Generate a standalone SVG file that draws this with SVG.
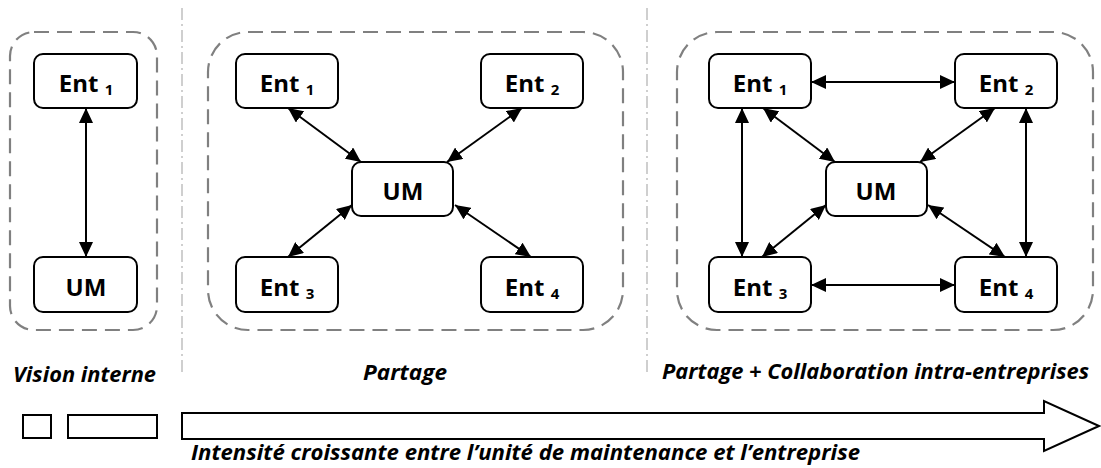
<svg xmlns="http://www.w3.org/2000/svg" width="1101" height="468" viewBox="0 0 1101 468">
<style>
.panel{fill:none;stroke:#808080;stroke-width:2.2;stroke-dasharray:15 8}
.div{fill:none;stroke:#c0c0c0;stroke-width:1.5;stroke-dasharray:12 4 2 4}
.box{fill:#fff;stroke:#000;stroke-width:2}
.t{font-family:"Open Sans","Liberation Sans",sans-serif;font-weight:bold;font-size:24px;fill:#000;text-anchor:middle}
.sub{font-size:15px}
.lab{font-family:"Open Sans","Liberation Sans",sans-serif;font-weight:bold;font-style:italic;font-size:21px;fill:#000}
.c{stroke:#000;stroke-width:2;fill:none;marker-start:url(#ah);marker-end:url(#ah)}
.sh{fill:#fff;stroke:#000;stroke-width:2}
</style>
<defs>
<marker id="ah" markerUnits="userSpaceOnUse" markerWidth="16" markerHeight="14" refX="15" refY="7" orient="auto-start-reverse">
<path d="M0,0 L15,7 L0,14 z" fill="#000"/>
</marker>
</defs>
<rect width="1101" height="468" fill="#fff"/>
<g id="dividers">
<line class="div" x1="182" y1="8" x2="182" y2="372"/>
<line class="div" x1="647" y1="8" x2="647" y2="372"/>
</g>
<g id="panels">
<rect id="panel1" class="panel" x="10" y="32" width="147" height="298" rx="24"/>
<rect id="panel2" class="panel" x="208" y="32" width="415" height="298" rx="40"/>
<rect id="panel3" class="panel" x="677" y="32" width="416" height="298" rx="40"/>
</g>
<g id="connectors">
<line class="c" x1="86" y1="108" x2="86" y2="257"/>
<line class="c" x1="288" y1="108" x2="361" y2="162"/>
<line class="c" x1="522" y1="108" x2="447" y2="162"/>
<line class="c" x1="352" y1="205" x2="288" y2="257"/>
<line class="c" x1="455" y1="205" x2="531" y2="257"/>
<line class="c" x1="811" y1="82" x2="955" y2="82"/>
<line class="c" x1="811" y1="285" x2="955" y2="285"/>
<line class="c" x1="742" y1="108" x2="742" y2="257"/>
<line class="c" x1="1026" y1="108" x2="1026" y2="257"/>
<line class="c" x1="763" y1="108" x2="835" y2="162"/>
<line class="c" x1="995" y1="108" x2="920" y2="162"/>
<line class="c" x1="826" y1="205" x2="762" y2="257"/>
<line class="c" x1="928" y1="205" x2="1005" y2="257"/>
</g>
<g id="p1-ent1"><rect class="box" x="34" y="54" width="103" height="54" rx="9"/><text class="t" x="86" y="92">Ent <tspan class="sub" dy="3">1</tspan></text></g>
<g id="p1-um"><rect class="box" x="34" y="257" width="103" height="55" rx="9"/><text class="t" x="86" y="296">UM</text></g>
<g id="p2-ent1"><rect class="box" x="236" y="54" width="102" height="54" rx="9"/><text class="t" x="287" y="92">Ent <tspan class="sub" dy="3">1</tspan></text></g>
<g id="p2-ent2"><rect class="box" x="481" y="54" width="102" height="54" rx="9"/><text class="t" x="532" y="92">Ent <tspan class="sub" dy="3">2</tspan></text></g>
<g id="p2-um"><rect class="box" x="352" y="162" width="101" height="54" rx="9"/><text class="t" x="403" y="200">UM</text></g>
<g id="p2-ent3"><rect class="box" x="236" y="257" width="102" height="55" rx="9"/><text class="t" x="287" y="296">Ent <tspan class="sub" dy="3">3</tspan></text></g>
<g id="p2-ent4"><rect class="box" x="481" y="257" width="102" height="55" rx="9"/><text class="t" x="532" y="296">Ent <tspan class="sub" dy="3">4</tspan></text></g>
<g id="p3-ent1"><rect class="box" x="709" y="54" width="102" height="54" rx="9"/><text class="t" x="760" y="92">Ent <tspan class="sub" dy="3">1</tspan></text></g>
<g id="p3-ent2"><rect class="box" x="955" y="54" width="102" height="54" rx="9"/><text class="t" x="1006" y="92">Ent <tspan class="sub" dy="3">2</tspan></text></g>
<g id="p3-um"><rect class="box" x="826" y="162" width="101" height="54" rx="9"/><text class="t" x="876" y="200">UM</text></g>
<g id="p3-ent3"><rect class="box" x="709" y="257" width="102" height="55" rx="9"/><text class="t" x="760" y="296">Ent <tspan class="sub" dy="3">3</tspan></text></g>
<g id="p3-ent4"><rect class="box" x="955" y="257" width="102" height="55" rx="9"/><text class="t" x="1006" y="296">Ent <tspan class="sub" dy="3">4</tspan></text></g>
<g id="labels">
<text class="lab" x="13" y="382" textLength="143" lengthAdjust="spacingAndGlyphs">Vision interne</text>
<text class="lab" x="363" y="380" textLength="84" lengthAdjust="spacingAndGlyphs">Partage</text>
<text class="lab" x="662" y="379" textLength="427" lengthAdjust="spacingAndGlyphs">Partage + Collaboration intra-entreprises</text>
<text class="lab" x="191" y="460" textLength="669" lengthAdjust="spacingAndGlyphs">Intensité croissante entre l’unité de maintenance et l’entreprise</text>
</g>
<g id="scale">
<rect class="sh" x="23" y="415" width="28" height="23"/>
<rect class="sh" x="68" y="415" width="89" height="23"/>
<polygon class="sh" points="182,413 1044,413 1044,401 1099,426 1044,451 1044,439 182,439"/>
</g>
</svg>
